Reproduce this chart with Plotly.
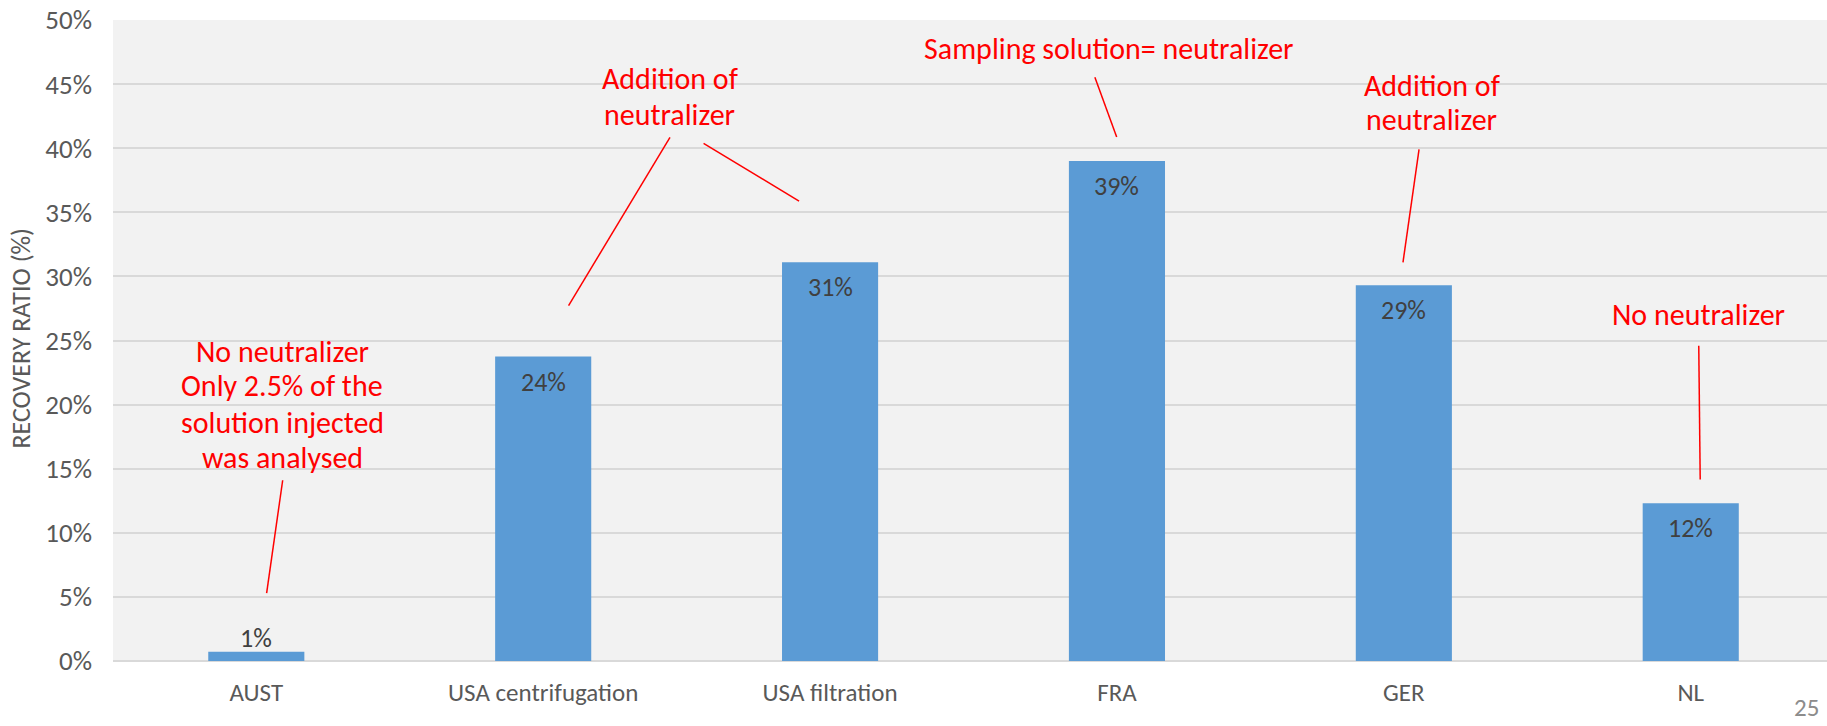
import plotly.graph_objects as go

# ---- data ----
categories = ["AUST", "USA centrifugation", "USA filtration", "FRA", "GER", "NL"]
recovery_pct = [0.73, 23.75, 31.1, 39.0, 29.3, 12.3]
y_tick_vals = [0, 5, 10, 15, 20, 25, 30, 35, 40, 45, 50]
y_tick_text = ["0%", "5%", "10%", "15%", "20%", "25%", "30%", "35%", "40%", "45%", "50%"]

# annotation notes (text lines, anchor in data coords) and leader lines
note_lines = [
    ("No neutralizer", 0.091, 24.18),
    ("Only 2.5% of the", 0.091, 21.51),
    ("solution injected", 0.091, 18.60),
    ("was analysed", 0.091, 15.91),
    ("Addition of", 1.442, 45.41),
    ("neutralizer", 1.440, 42.60),
    ("Sampling solution= neutralizer", 2.972, 47.75),
    ("Addition of", 4.098, 44.93),
    ("neutralizer", 4.098, 42.25),
    ("No neutralizer", 5.028, 26.99),
]
leader_x0 = [0.092, 1.442, 1.559, 2.923, 4.053, 5.028]
leader_y0 = [14.10, 40.85, 40.38, 45.53, 39.91, 24.59]
leader_x1 = [0.036, 1.0885, 1.892, 2.999, 3.997, 5.033]
leader_y1 = [5.30, 27.72, 35.88, 40.87, 31.10, 14.16]

FONT = "Calibri, Carlito, Lato, sans-serif"
BAR = "#5B9BD5"
GRID = "#D9D9D9"
AXIS_TXT = "#595959"
RED = "#FF0000"

x_idx = list(range(len(categories)))

fig = go.Figure()
fig.add_trace(go.Bar(
    x=x_idx, y=recovery_pct, width=0.335,
    marker=dict(color=BAR, line=dict(width=0)),
    hoverinfo="skip", showlegend=False,
))

annotations = []
# value labels
for i, v in zip(x_idx, recovery_pct):
    inside = v > 3
    annotations.append(dict(
        x=i, y=v, xref="x", yref="y", text=f"{round(v)}%", showarrow=False,
        yshift=-25 if inside else 14, font=dict(family=FONT, size=26, color="#404040"),
        xanchor="center", yanchor="middle",
    ))
# red notes
for txt, xx, yy in note_lines:
    annotations.append(dict(
        x=xx, y=yy, xref="x", yref="y", text=txt, showarrow=False,
        font=dict(family=FONT, size=30, color=RED), xanchor="center", yanchor="middle",
    ))
# y axis title
annotations.append(dict(
    x=(21 - 113) / 1714, y=0.503, xref="paper", yref="paper", text="RECOVERY RATIO (%)",
    showarrow=False, textangle=-90, font=dict(family=FONT, size=26, color=AXIS_TXT),
    xanchor="center", yanchor="middle",
))
# page number
annotations.append(dict(
    x=(1806 - 113) / 1714, y=(660.7 - 725) / 641, xref="paper", yref="paper", text="25",
    showarrow=False, font=dict(family=FONT, size=25, color="#8C8C8C"),
    xanchor="center", yanchor="bottom",
))

shapes = []
for a, b, c, d in zip(leader_x0, leader_y0, leader_x1, leader_y1):
    shapes.append(dict(type="line", xref="x", yref="y", x0=a, y0=b, x1=c, y1=d,
                       line=dict(color=RED, width=1.5)))

fig.update_layout(
    width=1827, height=726, autosize=False,
    margin=dict(l=113, r=0, t=20, b=65),
    paper_bgcolor="white", plot_bgcolor="#F2F2F2",
    font=dict(family=FONT, color=AXIS_TXT),
    annotations=annotations, shapes=shapes,
    xaxis=dict(
        range=[-0.4995, 5.475], tickvals=x_idx, ticktext=categories,
        tickfont=dict(family=FONT, size=25, color=AXIS_TXT),
        showgrid=False, zeroline=False, showline=False, ticks="",
        ticklabelstandoff=14, fixedrange=True,
    ),
    yaxis=dict(
        range=[0, 50], tickvals=y_tick_vals, ticktext=y_tick_text,
        tickfont=dict(family=FONT, size=27, color=AXIS_TXT),
        showgrid=True, gridcolor=GRID, gridwidth=2,
        zeroline=True, zerolinecolor=GRID, zerolinewidth=2,
        showline=False, ticks="", ticklabelstandoff=20, fixedrange=True,
    ),
)

fig.write_html(
    "out.html",
    config={"displayModeBar": False},
    post_script="document.body.style.margin='0';document.body.style.padding='0';",
)
